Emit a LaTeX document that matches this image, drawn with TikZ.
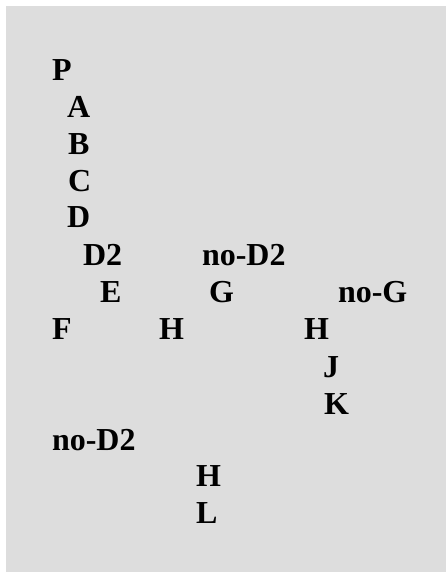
\documentclass[tikz,border=0pt]{standalone}
\usepackage{fontspec}
\setmainfont{Liberation Serif}
\definecolor{bggrey}{RGB}{221,221,221}
\tikzset{
  lbl/.style={anchor=base west, inner sep=0pt, outer sep=0pt, font=\fontsize{32}{36}\selectfont\bfseries, text=black}
}
\begin{document}
\begin{tikzpicture}[x=1pt,y=-1pt]
\useasboundingbox (0,0) rectangle (446,572);
\fill[white] (0,0) rectangle (446,572);
\fill[bggrey] (6,6) rectangle (446,572);
\node[lbl] (p) at (52,81) {P};
\node[lbl] (a) at (67,118) {A};
\node[lbl] (b) at (68,154) {B};
\node[lbl] (c) at (68,191) {C};
\node[lbl] (d) at (67,227) {D};
\node[lbl] (d2) at (83,265) {D2};
\node[lbl] (nod2a) at (202,265) {no-D2};
\node[lbl] (e) at (100,302) {E};
\node[lbl] (g) at (209,302) {G};
\node[lbl] (nog) at (338,302) {no-G};
\node[lbl] (f) at (52,339) {F};
\node[lbl] (h1) at (159,339) {H};
\node[lbl] (h2) at (304,339) {H};
\node[lbl] (j) at (323,377) {J};
\node[lbl] (k) at (324,414) {K};
\node[lbl] (nod2b) at (52,450) {no-D2};
\node[lbl] (h3) at (196,486) {H};
\node[lbl] (l) at (196,523) {L};
\end{tikzpicture}
\end{document}
